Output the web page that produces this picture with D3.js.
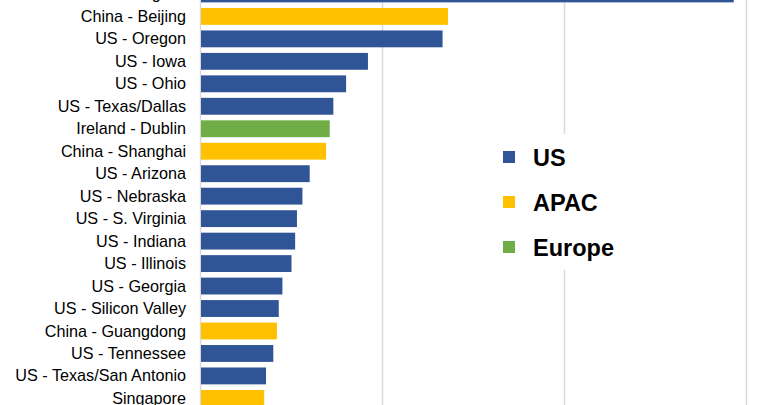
<!DOCTYPE html>
<html>
<head>
<meta charset="utf-8">
<script src="https://cdn.jsdelivr.net/npm/d3@7"></script>
<style>
  body { margin: 0; background: #fff; }
  svg { display: block; font-family: "Liberation Sans", Arial, sans-serif; }
</style>
</head>
<body>
<svg id="viz"></svg>
<script>
// data
const sites = ["US - N. Virginia", "China - Beijing", "US - Oregon", "US - Iowa", "US - Ohio",
  "US - Texas/Dallas", "Ireland - Dublin", "China - Shanghai", "US - Arizona", "US - Nebraska",
  "US - S. Virginia", "US - Indiana", "US - Illinois", "US - Georgia", "US - Silicon Valley",
  "China - Guangdong", "US - Tennessee", "US - Texas/San Antonio", "Singapore"];
const values = [293, 136, 133, 92, 80, 73, 71, 69, 60, 56, 53, 52, 50, 45, 43, 42, 40, 36, 35];
const regions = ["US", "APAC", "US", "US", "US", "US", "Europe", "APAC", "US", "US",
  "US", "US", "US", "US", "US", "APAC", "US", "US", "APAC"];
const legendItems = ["US", "APAC", "Europe"];
const gridTicks = [0, 100, 200, 300];

let svg = d3.select("#viz").attr("width", 771).attr("height", 405);

let color = d3.scaleOrdinal()
  .domain(legendItems)
  .range(["#2F5597", "#FFC000", "#70AD47"]);

//x scale, gridlines every 100
let x = d3.scaleLinear().domain([0, 300]).range([200.5, 746.5]);

//band scale, first row sits above the visible area
let y = d3.scaleBand()
  .domain(sites)
  .range([-17.3, -17.3 + 22.47 * sites.length])
  .paddingInner(0.25)
  .paddingOuter(0.125);

let data = sites.map((s, i) => ({site: s, value: values[i], region: regions[i]}));

//gridlines
svg.append("g")
  .selectAll("line")
  .data(gridTicks)
  .enter().append("line")
  .attr("x1", d => x(d)).attr("x2", d => x(d))
  .attr("y1", 0).attr("y2", 405)
  .attr("stroke", "#d9d9d9")
  .attr("stroke-width", 1.5);

//bars
svg.append("g")
  .selectAll("rect")
  .data(data)
  .enter().append("rect")
  .attr("x", x(0) + 0.5)
  .attr("y", d => y(d.site))
  .attr("width", d => x(d.value) - x(0) - 0.5)
  .attr("height", y.bandwidth())
  .attr("fill", d => color(d.region));

//category labels
let yAxis = svg.append("g")
  .attr("transform", "translate(200.5,0)")
  .call(d3.axisLeft(y).tickSize(0).tickPadding(14.5));
yAxis.select(".domain").remove();
yAxis.selectAll("text")
  .attr("font-size", 16.2)
  .attr("dy", "0.34em")
  .attr("font-family", "'Liberation Sans', Arial, sans-serif")
  .attr("fill", "#000");

//legend with white box over the gridline
let legend = svg.append("g");
legend.append("rect")
  .attr("x", 488).attr("y", 134)
  .attr("width", 150).attr("height", 136)
  .attr("fill", "#fff");

let items = legend.selectAll("g.item")
  .data(legendItems)
  .enter().append("g")
  .classed("item", true)
  .attr("transform", (d, i) => "translate(503," + (157 + i * 45) + ")");
items.append("rect")
  .attr("x", 0).attr("y", -6)
  .attr("width", 12).attr("height", 12)
  .attr("fill", d => color(d));
items.append("text")
  .attr("x", 30).attr("y", 8.5)
  .attr("font-size", 23.5)
  .attr("font-weight", "bold")
  .attr("fill", "#000")
  .text(d => d);
</script>
</body>
</html>
